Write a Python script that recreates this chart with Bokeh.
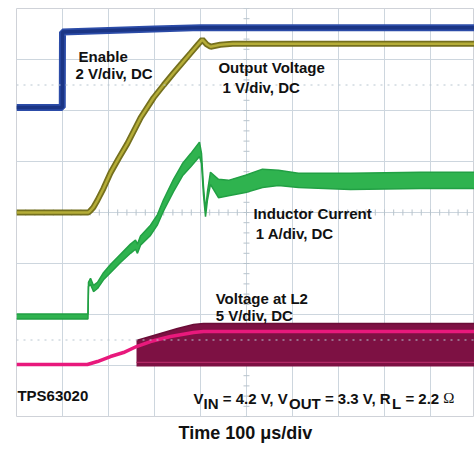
import numpy as np
from bokeh.plotting import figure
from bokeh.models import Range1d, Label, Span, FixedTicker
from bokeh.embed import file_html
from bokeh.resources import INLINE

# ---------------- data (time in microseconds) ----------------
# Enable, 2 V/div, ground at division 6
enable_t = [0, 99.5, 100, 200, 300, 400, 500, 1000]
enable_v = [0.12, 0.12, 3.08, 3.14, 3.2, 3.25, 3.25, 3.25]

# Output voltage, 1 V/div, ground at division 4
vout_t = [0, 156, 160, 167, 176, 189, 204, 222, 241, 270, 298, 320, 341, 360, 378,
          395, 404, 413, 422, 443, 470, 1000]
vout_v = [0.0, 0.0, 0.03, 0.1, 0.24, 0.47, 0.77, 1.06, 1.35, 1.86, 2.25, 2.5, 2.73,
          2.93, 3.12, 3.3, 3.39, 3.3, 3.25, 3.29, 3.31, 3.31]

# Inductor current, 1 A/div, ground at division 2 (center and ripple half-width)
il_t = [0, 155.4, 156.5, 160.9, 167.4, 176.1, 189.1, 204.3, 226.1, 247.8, 258.7, 263,
        269.6, 291.3, 306.5, 319.6, 341.3, 360.9, 378.3, 397.8, 402.2, 406.5, 410.9,
        415.2, 421.7, 439.1, 460.9, 497.8, 534.8, 569.6, 613, 726, 878, 1000]
il_a = [-0.04, -0.04, 0.59, 0.65, 0.51, 0.57, 0.75, 0.9, 1.1, 1.29, 1.37, 1.29,
        1.45, 1.65, 1.86, 2.14, 2.53, 2.84, 3.02, 3.24, 3.06, 2.43, 1.98,
        2.33, 2.67, 2.47, 2.48, 2.56, 2.67, 2.68, 2.63, 2.61, 2.63, 2.63]
il_ripple = [0.05, 0.05, 0.04, 0.06, 0.06, 0.06, 0.07, 0.08, 0.08, 0.09, 0.09, 0.09,
             0.09, 0.1, 0.1, 0.11, 0.12, 0.12, 0.13, 0.14, 0.1, 0.08, 0.06,
             0.08, 0.12, 0.18, 0.15, 0.17, 0.18, 0.15, 0.14, 0.16, 0.16, 0.16]

# Voltage at L2, 5 V/div, ground at division 1
l2_t = [0, 154, 176, 204.3, 232.6, 260.9, 291.3, 334.8, 384.8, 406.5, 1000]
l2_v = [0.1, 0.1, 0.39, 0.88, 1.27, 1.86, 2.35, 2.84, 3.24, 3.33, 3.33]
l2_sw_t = [260.9, 313, 350, 384.8, 406.5, 1000]
l2_sw_top = [2.45, 3.14, 3.63, 4.02, 4.12, 4.12]
l2_sw_bottom = [-0.1, -0.1, -0.1, -0.1, -0.1, -0.1]
l2_sw_edge = [0.3, 0.3, 0.3, 0.3, 0.3, 0.3]

# channel display settings: (ground division, units per division)
CH_EN = (6, 2.0)
CH_VO = (4, 1.0)
CH_IL = (2, 1.0)
CH_L2 = (1, 5.0)


def to_div(vals, ch):
    g, s = ch
    return [g + v / s for v in vals]


p = figure(width=474, height=453, output_backend="svg", toolbar_location=None,
           x_range=Range1d(0, 995.7), y_range=Range1d(0, 8),
           min_border_left=16, min_border_right=0, min_border_top=8, min_border_bottom=37)
p.yaxis.visible = False
p.background_fill_color = "white"
p.border_fill_color = "white"
p.outline_line_color = "#cfd2d8"
p.outline_line_width = 1

# x axis only carries the caption
p.xaxis.ticker = FixedTicker(ticks=[])
p.xaxis.axis_line_color = None
p.xaxis.major_tick_line_color = None
p.xaxis.minor_tick_line_color = None
p.xaxis.major_label_standoff = 0
p.xaxis.major_tick_out = 0
p.xaxis.axis_label = "Time 100 \u03bcs/div"
p.xaxis.axis_label_text_font = "Liberation Sans"
p.xaxis.axis_label_text_font_style = "bold"
p.xaxis.axis_label_text_font_size = "18px"
p.xaxis.axis_label_text_color = "#111111"
p.xaxis.axis_label_standoff = 6

gc = "#cdd6de"
p.xgrid.ticker = FixedTicker(ticks=list(range(0, 1001, 100)))
p.ygrid.ticker = FixedTicker(ticks=list(range(0, 9)))
p.xgrid.grid_line_color = gc
p.ygrid.grid_line_color = gc
p.xgrid.grid_line_width = 1
p.ygrid.grid_line_width = 1

for yy in (1.5, 6.5):
    p.add_layout(Span(location=yy, dimension="width", line_color="#b9c6d0",
                      line_dash="2 5", line_width=1))

# graticule minor ticks on center lines
tx = np.arange(0, 1001, 20)
p.segment(x0=tx, y0=[3.94] * len(tx), x1=tx, y1=[4.06] * len(tx), line_color="#b7c3cc", line_width=1)
ty = np.arange(0, 8.01, 0.2)
p.segment(x0=[493.5] * len(ty), y0=ty, x1=[506.5] * len(ty), y1=ty, line_color="#b7c3cc", line_width=1)

# Voltage at L2
p.varea(x=l2_sw_t, y1=to_div(l2_sw_bottom, CH_L2), y2=to_div(l2_sw_top, CH_L2),
        fill_color="#7d1143")
p.line(l2_sw_t, to_div(l2_sw_top, CH_L2), line_color="#6a0d37", line_width=1.5)
p.line(l2_sw_t, to_div(l2_sw_edge, CH_L2), line_color="#b32a66", line_width=1.2)
p.line(l2_t, to_div(l2_v, CH_L2), line_color="#e8197c", line_width=3.5)

# Inductor current
il_lo = [a - r for a, r in zip(il_a, il_ripple)]
il_hi = [a + r for a, r in zip(il_a, il_ripple)]
p.varea(x=il_t, y1=to_div(il_lo, CH_IL), y2=to_div(il_hi, CH_IL), fill_color="#2fb34f")
p.line(il_t, to_div(il_lo, CH_IL), line_color="#22a044", line_width=1.5)
p.line(il_t, to_div(il_hi, CH_IL), line_color="#22a044", line_width=1.5)

# Output voltage
p.line(vout_t, to_div(vout_v, CH_VO), line_color="#75701e", line_width=6)
p.line(vout_t, to_div(vout_v, CH_VO), line_color="#b5ad38", line_width=2.5)

# Enable
p.line(enable_t, to_div(enable_v, CH_EN), line_color="#2c4ca8", line_width=7)
p.line(enable_t, to_div(enable_v, CH_EN), line_color="#1b3585", line_width=3.5)

FONT = "Liberation Sans"


def lab(txt, x, y, size="15px", xo=0, yo=0, font=FONT, style="bold"):
    p.add_layout(Label(x=x, y=y, x_offset=xo, y_offset=yo, text=txt, text_font=font,
                       text_font_style=style, text_font_size=size, text_color="#111111",
                       text_baseline="alphabetic", text_align="left"))


lab("Enable", 135, 7.06)
lab("2 V/div, DC", 128, 6.73)
lab("Output Voltage", 439, 6.84)
lab("1 V/div, DC", 448, 6.45)
lab("Inductor Current", 515, 3.98)
lab("1 A/div, DC", 520, 3.59)
lab("Voltage at L2", 433, 2.31)
lab("5 V/div, DC", 433, 1.98)
lab("TPS63020", 2, 0.41)

# V_IN = 4.2 V, V_OUT = 3.3 V, R_L = 2.2 Ω
bx, by, sub = 385, 0.353, -5
lab("V", bx, by, xo=0)
lab("IN", bx, by, xo=10.0, yo=sub)
lab("= 4.2 V, V", bx, by, xo=29.2)
lab("OUT", bx, by, xo=95.5, yo=sub)
lab("= 3.3 V, R", bx, by, xo=131.3)
lab("L", bx, by, xo=198.4, yo=sub)
lab("= 2.2", bx, by, xo=211.8)
lab("\u03a9", bx, by, xo=249.7, font="Liberation Serif", style="normal")

open("out.html", "w").write(file_html(p, INLINE))
